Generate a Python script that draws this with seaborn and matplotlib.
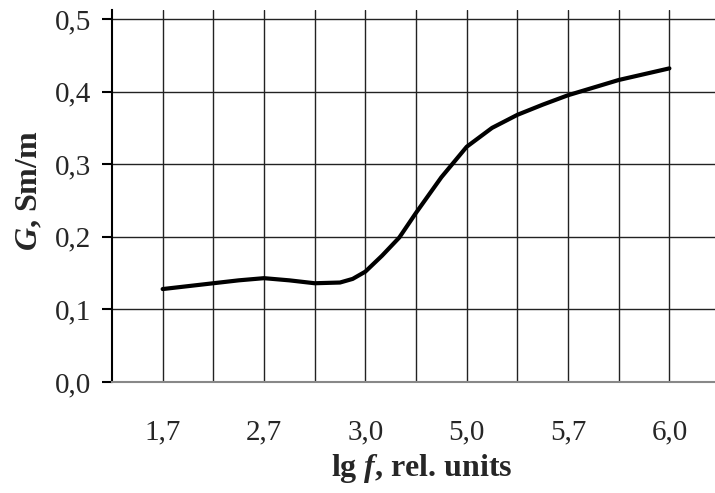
import numpy as np
import pandas as pd
import matplotlib.pyplot as plt
import seaborn as sns

# curve points (position along the category axis, conductivity G)
x_pos = [1, 2, 2.5, 3, 3.5, 4, 4.5, 4.75, 5, 5.33, 5.67, 6, 6.5, 7, 7.5, 8, 8.5, 9, 10, 11]
g_vals = [0.128, 0.136, 0.140, 0.143, 0.140, 0.136, 0.137, 0.142, 0.152, 0.174, 0.199,
          0.233, 0.282, 0.324, 0.350, 0.368, 0.382, 0.395, 0.416, 0.432]

tick_pos = [1, 3, 5, 7, 9, 11]
tick_labels = ['1,7', '2,7', '3,0', '5,0', '5,7', '6,0']
y_ticks = [0.0, 0.1, 0.2, 0.3, 0.4, 0.5]
y_tick_labels = ['0,0', '0,1', '0,2', '0,3', '0,4', '0,5']

sns.set_style('white')
plt.rcParams['font.family'] = ['Liberation Serif', 'DejaVu Serif']
plt.rcParams['mathtext.fontset'] = 'custom'
plt.rcParams['mathtext.rm'] = 'Liberation Serif:bold'
plt.rcParams['mathtext.it'] = 'Liberation Serif:italic:bold'
plt.rcParams['mathtext.bf'] = 'Liberation Serif:bold'

df = pd.DataFrame({'x': x_pos, 'G': g_vals})

fig = plt.figure(figsize=(7.15, 4.93), dpi=100)
ax = fig.add_axes([0.1566, 0.2252, 0.8434, 0.7545])

# grid like the Excel original
for xv in range(1, 12):
    ax.axvline(xv, color='#222222', lw=1.0, zorder=1)
for yv in y_ticks[1:]:
    ax.axhline(yv, color='#222222', lw=1.0, zorder=1)

sns.lineplot(data=df, x='x', y='G', ax=ax, color='black', lw=3, zorder=3)

ax.set_xlim(0, 11.9)
ax.set_ylim(0, 0.5124)

ax.set_xticks(tick_pos)
ax.set_xticklabels(tick_labels)
ax.set_yticks(y_ticks)
ax.set_yticklabels(y_tick_labels)
ax.tick_params(axis='x', length=0, pad=27, labelsize=21)
ax.tick_params(axis='y', left=True, length=7, width=1.5, color='black',
               direction='out', pad=8, labelsize=21)

for s in ['top', 'right']:
    ax.spines[s].set_visible(False)
ax.spines['left'].set_color('black')
ax.spines['left'].set_linewidth(1.5)
ax.spines['bottom'].set_color('#888888')
ax.spines['bottom'].set_linewidth(1.5)

ax.set_xlabel(r'lg $f$, rel. units', fontsize=23, fontweight='bold')
ax.set_ylabel(r'$G$, Sm/m', fontsize=23, fontweight='bold')
ax.xaxis.set_label_coords((422 - 112) / 603, -(452 - 382) / 372)
ax.yaxis.set_label_coords(-(112 - 44) / 603, (382 - 191) / 372)

fig.savefig('out.png', dpi=100)
